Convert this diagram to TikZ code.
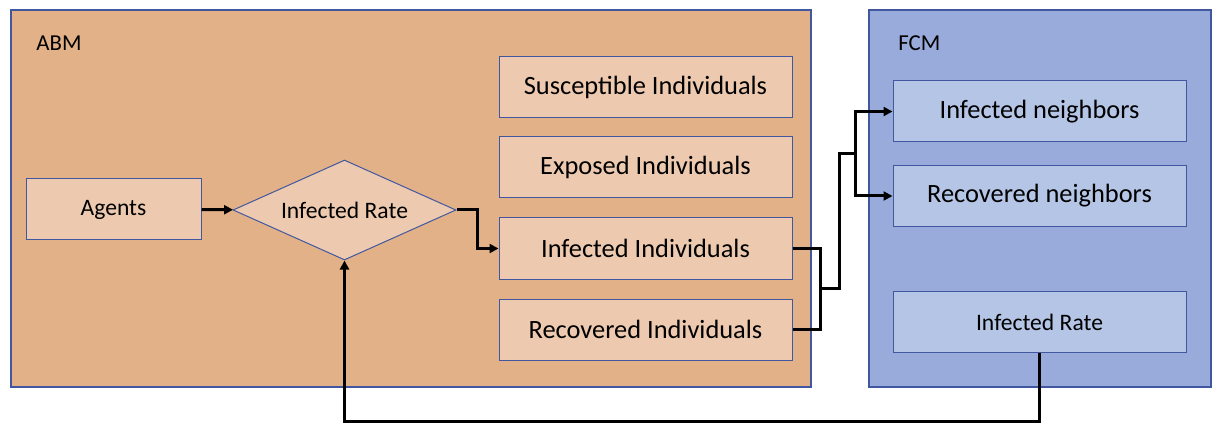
\documentclass[tikz,border=0pt]{standalone}
\usepackage{fontspec}
\setmainfont{Carlito}
\usetikzlibrary{shapes.geometric, arrows.meta}

\definecolor{abmbg}{HTML}{E3B187}
\definecolor{abmbox}{HTML}{EDCAAF}
\definecolor{fcmbg}{HTML}{98ABDA}
\definecolor{fcmbox}{HTML}{B5C5E6}
\definecolor{edge}{HTML}{4158A0}

\begin{document}
\begin{tikzpicture}[x=0.5pt, y=-0.5pt,
    panel/.style={draw=edge, line width=0.6pt},
    abmnode/.style={draw=edge, line width=0.5pt, fill=abmbox, inner sep=0pt,
        minimum width=146.5pt, minimum height=30.5pt, font=\fontsize{13.2}{15}\selectfont},
    fcmnode/.style={draw=edge, line width=0.5pt, fill=fcmbox, inner sep=0pt,
        minimum width=146.5pt, minimum height=30.5pt, font=\fontsize{13.2}{15}\selectfont},
    title/.style={anchor=west, inner sep=0pt, font=\fontsize{11.4}{13}\selectfont},
    link/.style={line width=1.5pt},
    arrow/.style={link, -{Triangle[length=4.5pt, width=4.5pt]}}]

        \useasboundingbox (0,0) rectangle (1225,438);

        % panels
        \fill[abmbg, panel] (11,10) rectangle (811,387);
        \fill[fcmbg, panel] (869,10) rectangle (1211,387);
        \node[title] (abm) at (36,43) {ABM};
        \node[title] (fcm) at (898,43) {FCM};

        % ABM side
        \node[abmnode, minimum width=87.5pt, font=\fontsize{11.8}{14}\selectfont] (agents) at (113.5,209.5) {Agents};
        \node[draw=edge, line width=0.5pt, fill=abmbox, diamond, aspect=2.23, inner sep=0pt,
            minimum width=111.5pt, minimum height=50pt, font=\fontsize{11.8}{14}\selectfont] (rate) at (344.5,210) {Infected Rate};
        \node[abmnode] (sus) at (645.5,87) {Susceptible Individuals};
        \node[abmnode] (exp) at (645.5,167.5) {Exposed Individuals};
        \node[abmnode] (inf) at (645.5,248.5) {Infected Individuals};
        \node[abmnode] (rec) at (645.5,329.5) {Recovered Individuals};

        % FCM side
        \node[fcmnode] (infn) at (1039.5,111.5) {Infected neighbors};
        \node[fcmnode] (recn) at (1039.5,196) {Recovered neighbors};
        \node[fcmnode, font=\fontsize{11.8}{14}\selectfont] (frate) at (1039.5,322) {Infected Rate};

        \coordinate (j1) at (820,288);
        \coordinate (j2) at (855,154);

        \draw[arrow] (agents) -- (rate);
        \draw[arrow] (rate.east) -- ++(21,0) |- (inf.west);
        \draw[link] (inf.east) -- ++(28,0) |- (rec.east);
        \draw[link] (j1) -- ++(19,0) |- (j2);
        \draw[arrow] (j2) |- (infn.west);
        \draw[arrow] (j2) |- (recn.west);
        \draw[arrow] (frate.south) -- ++(0,68) -| (rate.south);

    \end{tikzpicture}
\end{document}
